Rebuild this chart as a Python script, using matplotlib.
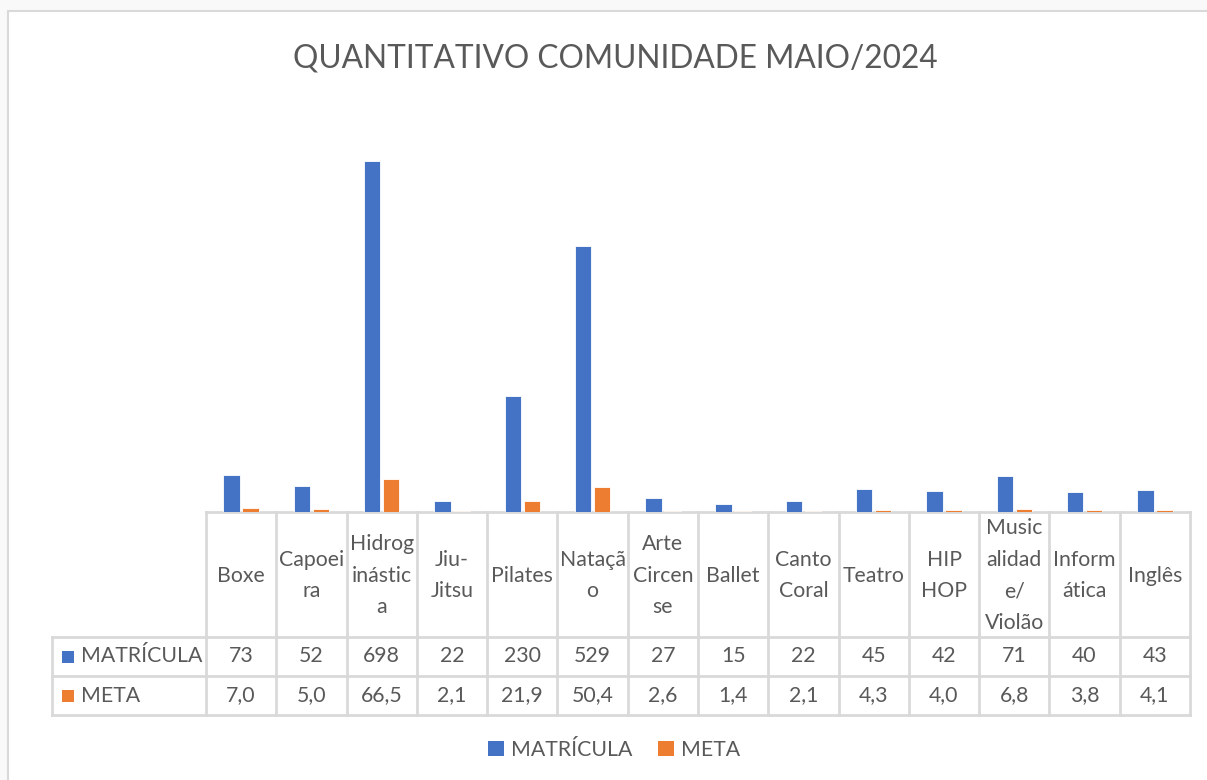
import matplotlib.pyplot as plt
import numpy as np
from matplotlib.lines import Line2D
from matplotlib.patches import Rectangle, Patch

categorias = ['Boxe', 'Capoei\nra', 'Hidrog\ninástic\na', 'Jiu-\nJitsu', 'Pilates', 'Nataçã\no',
              'Arte\nCircen\nse', 'Ballet', 'Canto\nCoral', 'Teatro', 'HIP\nHOP',
              'Music\nalidad\ne/\nViolão', 'Inform\nática', 'Inglês']
matricula = [73, 52, 698, 22, 230, 529, 27, 15, 22, 45, 42, 71, 40, 43]
meta = [7.0, 5.0, 66.5, 2.1, 21.9, 50.4, 2.6, 1.4, 2.1, 4.3, 4.0, 6.8, 3.8, 4.1]
series = ['MATRÍCULA', 'META']
titulo = 'QUANTITATIVO COMUNIDADE MAIO/2024'

azul = '#4472C4'
laranja = '#ED7D31'
cinza = '#595959'
linha = '#D9D9D9'
fonte = 'Lato'
fs = 15.3

W, H = 1207, 780
fig = plt.figure(figsize=(W / 100, H / 100), dpi=100)
fig.patch.set_facecolor('#F9F9F9')


def fx(x):
    return x / W


def fy(y):
    return 1 - y / H


# moldura do gráfico
fig.add_artist(Rectangle((fx(8), fy(H + 20)), fx(W + 20), fy(11) - fy(H + 20),
                         transform=fig.transFigure, facecolor='white',
                         edgecolor=linha, linewidth=1.5, zorder=-5))

x0, x1 = 206, 1190
base, topo = 512, 110
ax = fig.add_axes([fx(x0), fy(base), fx(x1 - x0), fy(topo) - fy(base)])
ax.set_zorder(2)
ax.set_facecolor('none')
x = np.arange(len(categorias))
largura = 0.235
ax.bar(x - 0.135, matricula, largura, color=azul, edgecolor='white', linewidth=0.6)
ax.bar(x + 0.135, meta, largura, color=laranja, edgecolor='white', linewidth=0.6)
ax.set_xlim(-0.5, len(categorias) - 0.5)
ax.set_ylim(0, 800)
ax.axis('off')

fig.text(fx(615), fy(58), titulo, ha='center', va='center', fontsize=22.8,
         color=cinza, family=fonte)

# tabela de dados
col = (x1 - x0) / len(categorias)
r0, r1, r2, r3 = 512, 637, 676, 715
lx = 52
kw = dict(transform=fig.transFigure, color=linha, linewidth=2)
fig.add_artist(Line2D([fx(x0), fx(x1)], [fy(r0), fy(r0)], **kw))
for r in (r1, r2, r3):
    fig.add_artist(Line2D([fx(lx), fx(x1)], [fy(r), fy(r)], **kw))
for i in range(len(categorias) + 1):
    xc = x0 + i * col
    fig.add_artist(Line2D([fx(xc), fx(xc)], [fy(r0), fy(r3)], **kw))
fig.add_artist(Line2D([fx(lx), fx(lx)], [fy(r1), fy(r3)], **kw))

tk = dict(ha='center', va='center', fontsize=fs, color=cinza, family=fonte)
for i, nome in enumerate(categorias):
    xc = fx(x0 + (i + 0.5) * col)
    fig.text(xc, fy((r0 + r1) / 2 + 1), nome, linespacing=1.72, **tk)
    fig.text(xc, fy((r1 + r2) / 2), str(matricula[i]), **tk)
    fig.text(xc, fy((r2 + r3) / 2), f'{meta[i]:.1f}'.replace('.', ','), **tk)

for nome, cor, (ya, yb) in zip(series, [azul, laranja], [(r1, r2), (r2, r3)]):
    yc = (ya + yb) / 2
    fig.add_artist(Rectangle((fx(62), fy(yc + 6)), fx(12), fy(yc - 6) - fy(yc + 6),
                             transform=fig.transFigure, facecolor=cor, edgecolor='none'))
    fig.text(fx(81), fy(yc), nome, ha='left', va='center', fontsize=fs,
             color=cinza, family=fonte)

handles = [Patch(facecolor=azul), Patch(facecolor=laranja)]
leg = fig.legend(handles, series, loc='center', bbox_to_anchor=(fx(614), fy(750)),
                 ncol=2, frameon=False, handlelength=0.75, handleheight=0.75,
                 handletextpad=0.35, columnspacing=1.2,
                 prop={'family': fonte, 'size': fs})
for t in leg.get_texts():
    t.set_color(cinza)

fig.savefig('out.png', dpi=100, facecolor=fig.get_facecolor())
